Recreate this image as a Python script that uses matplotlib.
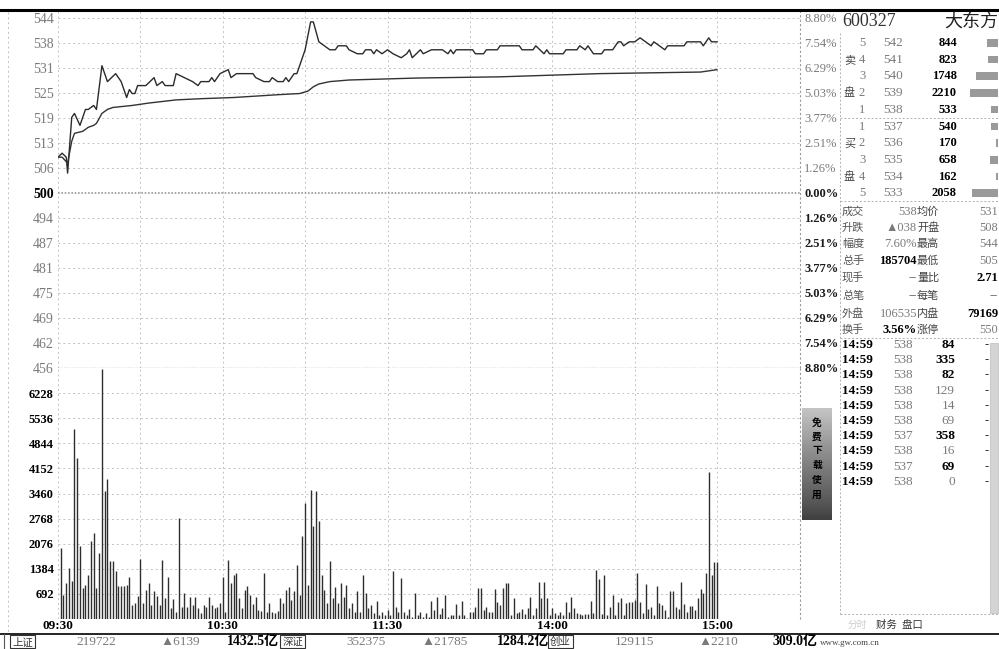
import numpy as np
import matplotlib.pyplot as plt
from matplotlib.patches import Rectangle

plt.rcParams['font.family'] = ['Liberation Serif', 'Noto Sans CJK SC', 'DejaVu Sans']

W, H = 999, 649

# price line vertices: minutes after 09:30 and price (0.01 yuan)
price_min = [0, 1.5, 3, 3.5, 5, 6, 8, 10, 11, 13, 14, 16, 18, 21, 23, 25, 26, 27, 28, 29,
             32, 35, 36, 38, 39, 42, 43, 46, 49, 51, 52, 55, 56, 57, 59, 62, 63, 65, 71, 72,
             75, 77, 78, 80, 82, 83, 84, 86, 87, 90, 92, 93, 95, 97, 99, 101, 102, 105, 106, 109,
             111, 112, 114, 115, 116, 118, 120, 122, 125, 127, 128, 129, 132, 133, 136, 140, 142, 143, 144, 145,
             147, 151, 152, 155, 156, 160, 161, 168, 169, 171, 173, 174, 177, 178, 179, 184, 185, 189, 190, 192,
             193, 195, 198, 199, 202, 204, 205, 206, 208, 210, 212, 214, 216, 217, 219, 221, 222, 228, 229, 231,
             234, 235, 237, 238, 240]
price_val = [509, 510, 509, 505, 519, 520, 517, 521, 521, 522, 521, 532, 528, 530, 528, 524, 526, 525, 525, 527,
             527, 529, 527, 528, 527, 527, 530, 529, 528, 527, 528, 528, 529, 528, 530, 531, 529, 530, 530, 529,
             528, 528, 529, 528, 528, 529, 528, 530, 530, 536, 543, 543, 538, 537, 536, 536, 537, 537, 536, 535,
             535, 536, 536, 535, 536, 535, 536, 535, 534, 535, 536, 534, 536, 535, 536, 536, 535, 536, 535, 536,
             536, 536, 535, 535, 536, 536, 537, 537, 536, 536, 536, 537, 535, 536, 535, 535, 536, 536, 537, 536,
             537, 535, 535, 536, 536, 538, 538, 537, 538, 538, 539, 538, 537, 538, 537, 536, 537, 537, 538, 538,
             538, 537, 539, 538, 538]

avg_min = [0, 1.5, 3.5, 5, 6, 9, 11, 13, 14, 16, 18, 20, 27, 33, 43, 52, 64, 80, 88, 91,
           93, 95, 99, 106, 131, 161, 197, 234, 240]
avg_val = [509, 509, 507.5, 513, 515, 515.5, 516.5, 517, 517.5, 520, 521, 521.5, 522, 522.6, 523.4, 523.7, 524, 524.7, 525, 525.6,
           526.7, 527.4, 528, 528.4, 528.9, 529.2, 530, 530.4, 531]

# minute volumes (lots), 09:31 .. 15:00
volume = [1960, 660, 990, 1400, 1060, 5230, 4450, 2000, 850, 940, 1220, 2150, 2370, 850, 1820, 6900, 3530, 3850, 1590, 1590,
          1310, 900, 900, 900, 940, 1150, 390, 430, 640, 1660, 430, 800, 990, 390, 785, 640, 390, 1630, 570, 1150,
          300, 545, 200, 2790, 340, 710, 320, 620, 390, 620, 300, 160, 390, 340, 620, 390, 300, 340, 450, 1170,
          200, 1630, 990, 1200, 1260, 570, 310, 800, 900, 660, 400, 620, 250, 220, 1260, 200, 430, 200, 160, 220,
          590, 430, 800, 870, 530, 760, 1500, 660, 2280, 3200, 940, 3570, 2560, 3530, 2700, 1220, 800, 430, 1590, 570,
          870, 430, 990, 620, 940, 300, 430, 200, 780, 200, 1200, 710, 300, 390, 160, 500, 110, 200, 110, 250,
          110, 1310, 340, 200, 1130, 200, 110, 280, 65, 710, 110, 200, 65, 160, 65, 500, 250, 620, 130, 300,
          660, 65, 110, 110, 400, 110, 500, 110, 20, 180, 200, 340, 850, 850, 250, 340, 200, 200, 820, 480,
          390, 850, 990, 990, 110, 570, 160, 200, 280, 130, 300, 620, 110, 300, 1030, 570, 1020, 570, 110, 300,
          160, 110, 180, 110, 480, 200, 620, 310, 160, 130, 110, 130, 130, 500, 160, 1360, 1110, 130, 1220, 110,
          340, 650, 110, 480, 590, 110, 430, 480, 480, 530, 1260, 480, 160, 960, 280, 340, 110, 910, 430, 390,
          250, 65, 760, 760, 340, 280, 1030, 400, 200, 360, 360, 250, 570, 830, 710, 1260, 4060, 1220, 1570, 1570]
vol_min = np.arange(1, len(volume) + 1)

price_ticks = [500 + k * 44 / 7 for k in range(-7, 8)]
price_labels = ['456', '462', '469', '475', '481', '487', '494', '500',
                '506', '513', '519', '525', '531', '538', '544']
pct_labels = ['8.80%', '7.54%', '6.29%', '5.03%', '3.77%', '2.51%', '1.26%', '0.00%',
              '1.26%', '2.51%', '3.77%', '5.03%', '6.29%', '7.54%', '8.80%']
vol_ticks = [692 * k for k in range(1, 10)]
vol_labels = ['692', '1384', '2076', '2768', '3460', '4152', '4844', '5536', '6228']
time_ticks = [0, 60, 120, 180, 240]
time_labels = ['09:30', '10:30', '11:30', '14:00', '15:00']

# order book
sell_lvl = ['5', '4', '3', '2', '1']
sell_px = ['542', '541', '540', '539', '538']
sell_vol = [844, 823, 1748, 2210, 533]
buy_lvl = ['1', '2', '3', '4', '5']
buy_px = ['537', '536', '535', '534', '533']
buy_vol = [540, 170, 658, 162, 2058]

stat_rows = [('成交', '538', '均价', '531'), ('升跌', '▲038', '开盘', '508'),
             ('幅度', '7.60%', '最高', '544'), ('总手', '185704', '最低', '505'),
             ('现手', '--', '量比', '2.71'), ('总笔', '--', '每笔', '--'),
             ('外盘', '106535', '内盘', '79169'), ('换手', '3.56%', '涨停', '550')]
stat_bold1 = [False, False, False, True, False, False, False, True]
stat_bold2 = [False, False, False, False, True, False, True, False]

tick_time = ['14:59'] * 10
tick_px = ['538', '538', '538', '538', '538', '538', '537', '538', '537', '538']
tick_vol = ['84', '335', '82', '129', '14', '69', '358', '16', '69', '0']
tick_bold = [True, True, True, False, False, False, True, False, True, False]

status = [('上证', '219722', '▲6139', '1432.5亿'), ('深证', '352375', '▲21785', '1284.2亿'),
          ('创业', '129115', '▲2210', '309.0亿')]

GRAY = '#7a7a7a'
GRID = '#c2c2c2'

fig = plt.figure(figsize=(9.99, 6.49), dpi=100)
fig.patch.set_facecolor('white')

x0, x1 = 58, 800
ppm = (717 - 58) / 240
xmax = (x1 - x0) / ppm

ax = fig.add_axes([x0 / W, 1 - 368 / H, (x1 - x0) / W, (368 - 10) / H])
axv = fig.add_axes([x0 / W, 1 - 619 / H, (x1 - x0) / W, (619 - 368) / H], sharex=ax)

for a in (ax, axv):
    for s in a.spines.values():
        s.set_visible(False)
    a.set_xlim(0, xmax)
    for m in range(0, 241, 30):
        a.axvline(m, color=GRID, lw=0.7, ls=(0, (2, 3)), zorder=0)
    a.axvline(xmax, color='#999999', lw=0.8, ls=(0, (2, 2)), zorder=0, clip_on=False)

# price panel
ax.set_ylim(456, 546)
for t in price_ticks:
    if abs(t - 500) < 0.1:
        ax.axhline(t, color='#999999', lw=1.2, ls=(0, (1, 1)), zorder=1)
    elif t > 456.1:
        ax.axhline(t, color=GRID, lw=0.7, ls=(0, (2, 3)), zorder=0)
ax.axhline(456, color='#8a8a8a', lw=1.0, ls=(0, (1, 1)), zorder=1)
ax.plot(price_min, price_val, color='#2b2b2b', lw=1.0, zorder=3)
ax.plot(avg_min, avg_val, color='#333333', lw=1.0, zorder=3)
ax.set_yticks(price_ticks)
ax.set_yticklabels(price_labels, fontsize=10)
for lab, t in zip(ax.get_yticklabels(), price_ticks):
    if abs(t - 500) < 0.1:
        lab.set_color('black')
        lab.set_fontweight('bold')
    else:
        lab.set_color(GRAY)
ax.tick_params(axis='y', length=0, pad=3)
ax.tick_params(axis='x', length=0, labelbottom=False)

axr = ax.twinx()
for s in axr.spines.values():
    s.set_visible(False)
axr.set_ylim(456, 546)
axr.set_yticks(price_ticks)
axr.set_yticklabels(pct_labels, fontsize=9)
for lab, t in zip(axr.get_yticklabels(), price_ticks):
    if t <= 500.1:
        lab.set_color('#1a1a1a')
        lab.set_fontweight('bold')
    else:
        lab.set_color(GRAY)
axr.tick_params(axis='y', length=0, pad=3)

# volume panel
axv.set_ylim(0, 6920)
for t in vol_ticks:
    axv.axhline(t, color=GRID, lw=0.7, ls=(0, (2, 3)), zorder=0)
axv.vlines(vol_min, 0, volume, color='#2e2e2e', lw=1.0, zorder=3)
axv.set_yticks(vol_ticks)
axv.set_yticklabels(vol_labels, fontsize=9, fontweight='bold')
axv.tick_params(axis='y', length=0, pad=3)
axv.set_xticks(time_ticks)
axv.set_xticklabels(time_labels, fontsize=9.5, fontweight='bold')
axv.tick_params(axis='x', length=0, pad=1)

# order book size bars
axb = fig.add_axes([958 / W, 1 - 201.5 / H, 40 / W, 167 / H])
axb.axis('off')
axb.set_xlim(3200, 0)
axb.set_ylim(9.5, -0.5)
axb.barh(range(10), sell_vol + buy_vol, height=0.45, color='#9a9a9a')

# overlay in pixel coordinates for the quote panel and frame
ov = fig.add_axes([0, 0, 1, 1])
ov.set_xlim(0, W)
ov.set_ylim(H, 0)
ov.axis('off')
ov.patch.set_alpha(0)

ov.plot([0, W], [10, 10], color='black', lw=2.2)
ov.plot([8, 8], [12, 632], color='#c0c0c0', lw=0.7, ls=(0, (2, 3)))
ov.plot([840, 840], [33, 614], color='#b0b0b0', lw=0.7, ls=(0, (2, 2)))
for yy in (118, 201, 338, 614):
    ov.plot([840, W], [yy, yy], color='#b0b0b0', lw=0.7, ls=(0, (2, 2)))

ov.text(842, 22, '600327', fontsize=13, va='center', ha='left', color='#333333')
ov.text(998, 22, '大东方', fontsize=13, va='center', ha='right', color='#222222')

row_y = [43 + 16.7 * i for i in range(10)]
for i in range(5):
    y = row_y[i]
    ov.text(862, y, sell_lvl[i], fontsize=9, ha='center', va='center', color=GRAY)
    ov.text(893, y, sell_px[i], fontsize=9.5, ha='center', va='center', color=GRAY)
    ov.text(957, y, str(sell_vol[i]), fontsize=9, ha='right', va='center', fontweight='bold')
    y = row_y[i + 5]
    ov.text(862, y, buy_lvl[i], fontsize=9, ha='center', va='center', color=GRAY)
    ov.text(893, y, buy_px[i], fontsize=9.5, ha='center', va='center', color=GRAY)
    ov.text(957, y, str(buy_vol[i]), fontsize=9, ha='right', va='center', fontweight='bold')
ov.text(844, row_y[1], '卖', fontsize=8, ha='left', va='center', color='#444444')
ov.text(844, row_y[3], '盘', fontsize=8, ha='left', va='center', color='#444444')
ov.text(844, row_y[6], '买', fontsize=8, ha='left', va='center', color='#444444')
ov.text(844, row_y[8], '盘', fontsize=8, ha='left', va='center', color='#444444')

stat_y = [212, 228, 244, 261, 278, 296, 314, 330]
for (l1, v1, l2, v2), b1, b2, y in zip(stat_rows, stat_bold1, stat_bold2, stat_y):
    ov.text(842, y, l1, fontsize=8, ha='left', va='center', color='#555555')
    ov.text(917, y, v1, fontsize=9, ha='right', va='center',
            color='black' if b1 else GRAY, fontweight='bold' if b1 else 'normal')
    ov.text(917, y, l2, fontsize=8, ha='left', va='center', color='#444444')
    ov.text(998, y, v2, fontsize=9, ha='right', va='center',
            color='black' if b2 else GRAY, fontweight='bold' if b2 else 'normal')

tick_y = [345 + 15.2 * i for i in range(10)]
for t, p, v, b, y in zip(tick_time, tick_px, tick_vol, tick_bold, tick_y):
    ov.text(842, y, t, fontsize=9.5, ha='left', va='center', fontweight='bold')
    ov.text(903, y, p, fontsize=9.5, ha='center', va='center', color=GRAY)
    ov.text(955, y, v, fontsize=9.5, ha='right', va='center',
            color='black' if b else GRAY, fontweight='bold' if b else 'normal')
    ov.text(987, y, '-', fontsize=9, ha='center', va='center', color='#333333')
ov.add_patch(Rectangle((990, 343), 8, 270, facecolor='#d4d4d4', edgecolor='#bbbbbb', lw=0.5))

# advert strip
grad = np.linspace(0.35, 0.8, 50).reshape(-1, 1)
ov.imshow(grad, cmap='Greys', vmin=0, vmax=1, extent=(802, 832, 520, 408), aspect='auto', zorder=2)
for ch, y in zip('免费下载使用', [423, 437, 451, 465, 480, 495]):
    ov.text(817, y, ch, fontsize=7, ha='center', va='center', fontweight='bold', color='black', zorder=3)

ov.text(876, 625, '财务  盘口', fontsize=7.5, ha='left', va='center', color='#333333')
ov.text(848, 625, '分时', fontsize=7, ha='left', va='center', color='#cccccc')

# status bar
ov.plot([0, W], [634, 634], color='black', lw=1.2)
ov.plot([4, 4], [634, 649], color='#555555', lw=0.8)
box_x = [10, 280, 548]
val_x = [96, 366, 634]
chg_x = [180, 444, 718]
amt_x = [279, 549, 817]
for (name, v, c, amt), bx, vx, cx, axx in zip(status, box_x, val_x, chg_x, amt_x):
    ov.add_patch(Rectangle((bx, 635), 25, 13, facecolor='none', edgecolor='#333333', lw=0.8))
    ov.text(bx + 12.5, 642, name, fontsize=7.5, ha='center', va='center', color='#333333')
    ov.text(vx, 642, v, fontsize=9.5, ha='center', va='center', color=GRAY)
    ov.text(cx, 642, c, fontsize=9.5, ha='center', va='center', color=GRAY)
    ov.text(axx, 642, amt, fontsize=10, ha='right', va='center', fontweight='bold')
ov.text(820, 643, 'www.gw.com.cn', fontsize=6.5, ha='left', va='center', color='#444444')

ov.set_xlim(0, W)
ov.set_ylim(H, 0)

fig.savefig('out.png', dpi=100, facecolor='white')
